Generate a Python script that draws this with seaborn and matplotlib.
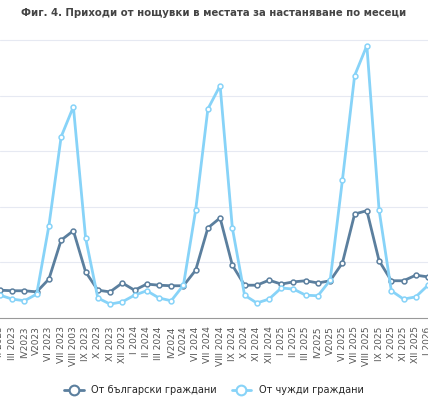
import matplotlib
matplotlib.use("Agg")
import matplotlib.pyplot as plt
import seaborn as sns
import pandas as pd

months = ["II 2023","III 2023","IV2023","V2023","VI 2023","VII 2023","VIII 2003","IX 2023","X 2023","XI 2023","XII 2023",
          "I 2024","II 2024","III 2024","IV2024","V2024","VI 2024","VII 2024","VIII 2024","IX 2024","X 2024","XI 2024","XII 2024",
          "I 2025","II 2025","III 2025","IV2025","V2025","VI 2025","VII 2025","VIII 2025","IX 2025","X 2025","XI 2025","XII 2025","I 2026"]
bulgarian = [50,49,49,47,70,140,157,83,50,47,63,50,61,59,58,58,86,162,180,95,59,59,68,61,65,67,63,67,99,187,193,103,67,67,77,74]
foreign = [41,34,31,43,166,326,380,144,36,25,29,41,49,36,31,59,194,376,418,162,41,27,34,54,52,41,40,68,248,436,490,194,49,34,38,59]
series_names = ["От български граждани", "От чужди граждани"]
colors = ["#5b7f9e", "#87d3f8"]

sns.set_style("white")
plt.rcParams['font.family'] = ['DejaVu Sans']
fig = plt.figure(figsize=(4.28, 4.0), dpi=100)
ax = fig.add_axes([0, 0.205, 1, 0.7325])
for vals, name, c in [(bulgarian, series_names[0], colors[0]), (foreign, series_names[1], colors[1])]:
    d = pd.DataFrame({"x": range(len(months)), "v": vals})
    sns.lineplot(data=d, x="x", y="v", color=c, marker="o", markersize=3.5,
                 markerfacecolor="white", markeredgecolor=c, markeredgewidth=1.1,
                 linewidth=2, ax=ax, label=name, legend=False)
ax.set_xlim(0, len(months) - 1)
ax.set_ylim(0, 527)
ax.set_yticks([100, 200, 300, 400, 500])
ax.yaxis.grid(True, color="#e6e9f2", linewidth=0.8)
ax.set_yticklabels([])
ax.tick_params(axis="y", length=0)
ax.set_xticks(range(len(months)))
ax.set_xticklabels(months, rotation=90, fontsize=6.5, color="#555555")
ax.tick_params(axis="x", length=4, color="#999999", pad=2)
for sp in ["left", "right", "top"]:
    ax.spines[sp].set_visible(False)
ax.spines["bottom"].set_color("#999999")
ax.set_xlabel(""); ax.set_ylabel("")

fig.text(0.5, 0.98, "Фиг. 4. Приходи от нощувки в местата за настаняване по месеци",
         ha="center", va="top", fontsize=7.3, fontweight="bold", color="#444444")

from matplotlib.lines import Line2D
handles = [Line2D([], [], color=c, marker="o", markersize=7, markerfacecolor="white",
                  markeredgewidth=1.5, linewidth=2) for c in colors]
fig.legend(handles, series_names, loc="center", bbox_to_anchor=(0.5, 0.025), ncol=2,
           frameon=False, fontsize=7, handlelength=2, columnspacing=1.5)
fig.savefig("out.png", dpi=100)
